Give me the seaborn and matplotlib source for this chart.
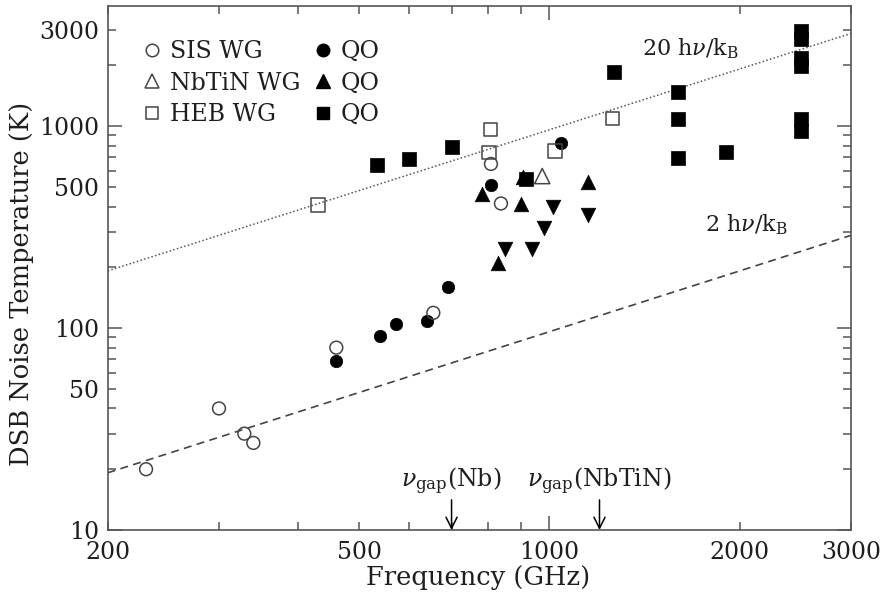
import numpy as np
import pandas as pd
import matplotlib
matplotlib.use("Agg")
import matplotlib.pyplot as plt
import seaborn as sns
from matplotlib.ticker import LogLocator, FuncFormatter
from matplotlib.lines import Line2D

# ---------------- data ----------------
sis_wg_freq = [230, 300, 329, 340, 460, 655, 808, 838]
sis_wg_T = [20, 40, 30, 27, 80, 119, 650, 414]

sis_qo_freq = [460, 540, 571, 640, 690, 808, 1043]
sis_qo_T = [69, 91, 105, 109, 159, 510, 830]

nbtin_wg_freq = [974]
nbtin_wg_T = [566]

nbtin_qo_freq = [781, 830, 901, 907, 1152]
nbtin_qo_T = [460, 211, 411, 557, 530]

nbtin_qo_down_freq = [850, 937, 981, 1014, 1152]
nbtin_qo_down_T = [246, 246, 312, 396, 362]

heb_wg_freq = [430, 803, 807, 1021, 1259]
heb_wg_T = [406, 741, 963, 755, 1092]

heb_qo_freq = [533, 599, 700, 917, 1267, 1600, 1600, 1600, 1900,
               2500, 2500, 2500, 2500, 2500, 2500]
heb_qo_T = [641, 687, 790, 545, 1845, 1479, 1083, 692, 741,
            2970, 2712, 2184, 1977, 1081, 942]

# quantum-limit lines: T = n h nu / k_B
h_over_k = 0.04799          # K per GHz
line_freq = [200, 3000]
line_factors = [20, 2]

x_labels = [200, 500, 1000, 2000, 3000]
y_labels = [10, 50, 100, 500, 1000, 3000]
legend_labels = ["SIS WG", "NbTiN WG", "HEB WG", "QO", "QO", "QO"]

# ---------------- style ----------------
sns.set_style("ticks")
plt.rcParams["font.family"] = ["DejaVu Serif"]
plt.rcParams["mathtext.fontset"] = "dejavuserif"

W, H = 883, 599
fig = plt.figure(figsize=(W / 100, H / 100), dpi=100)
L, R, T, B = 107.7, 851, 5.7, 530
ax = fig.add_axes([L / W, (H - B) / H, (R - L) / W, (B - T) / H])
ax.set_xscale("log")
ax.set_yscale("log")
ax.set_xlim(200, 3000)
ax.set_ylim(10, 3950)

edge = "#444444"
txt = "#1e1e1e"
FS = 17
LFS = 18.5

# theory lines
lf = np.array(line_freq, dtype=float)
ax.plot(lf, line_factors[0] * h_over_k * lf, color="#555555", lw=1.1,
        ls=(0, (1, 1.5)), zorder=1)
ax.plot(lf, line_factors[1] * h_over_k * lf, color="#444444", lw=1.2,
        ls=(0, (4.8, 3.2)), zorder=1)

# data markers
def scat(fx, fy, marker, size, filled):
    df = pd.DataFrame({"f": fx, "T": fy})
    if filled:
        sns.scatterplot(data=df, x="f", y="T", marker=marker, s=size,
                        color="black", edgecolor="black", linewidth=0.5,
                        ax=ax, zorder=3, legend=False)
    else:
        sns.scatterplot(data=df, x="f", y="T", marker=marker, s=size,
                        facecolor="none", edgecolor=edge, linewidth=1.1,
                        ax=ax, zorder=3, legend=False)

scat(heb_qo_freq, heb_qo_T, "s", 95, True)
scat(nbtin_qo_freq, nbtin_qo_T, "^", 110, True)
scat(nbtin_qo_down_freq, nbtin_qo_down_T, "v", 110, True)
scat(sis_qo_freq, sis_qo_T, "o", 80, True)
scat(sis_wg_freq, sis_wg_T, "o", 85, False)
scat(nbtin_wg_freq, nbtin_wg_T, "^", 120, False)
scat(heb_wg_freq, heb_wg_T, "s", 95, False)

# axes / ticks
for sp in ax.spines.values():
    sp.set_color("#555555")
    sp.set_linewidth(1.2)
    sp.set_visible(True)

for axis, labs in ((ax.xaxis, x_labels), (ax.yaxis, y_labels)):
    axis.set_major_locator(LogLocator(base=10, numticks=10))
    axis.set_minor_locator(LogLocator(base=10, subs=np.arange(2, 10), numticks=30))
    fmt = FuncFormatter(lambda v, p, labs=labs: f"{int(round(v))}"
                        if any(abs(v - l) / l < 1e-6 for l in labs) else "")
    axis.set_major_formatter(fmt)
    axis.set_minor_formatter(fmt)

ax.tick_params(which="both", direction="in", top=True, right=True,
               color="#555555", width=1.1, labelsize=FS, labelcolor=txt)
ax.tick_params(which="major", length=10)
ax.tick_params(which="minor", length=5.5)
ax.tick_params(axis="x", which="both", pad=8)
ax.tick_params(axis="y", which="both", pad=6)

ax.set_xlabel("Frequency (GHz)", fontsize=LFS, color=txt)
ax.xaxis.set_label_coords((478 - L) / (R - L), -(565 - B) / (B - T))
ax.set_ylabel("DSB Noise Temperature (K)", fontsize=LFS, color=txt)
ax.yaxis.set_label_coords(-(L - 34) / (R - L), (B - 284) / (B - T))

# line labels
ax.text(1401, 2246, r"20 h$\nu$/k$_{\rm B}$", fontsize=16, ha="left",
        va="baseline", color=txt)
ax.text(1763, 302, r"2 h$\nu$/k$_{\rm B}$", fontsize=16, ha="left",
        va="baseline", color=txt)

# gap-frequency arrows
gap_freq = [700, 1200]
gap_labels = [r"$\nu_{\rm gap}$(Nb)", r"$\nu_{\rm gap}$(NbTiN)"]
for gf, gl in zip(gap_freq, gap_labels):
    ax.annotate("", xy=(gf, 10), xytext=(gf, 14.1),
                arrowprops=dict(arrowstyle="->", color="black", lw=1.1,
                                shrinkA=0, shrinkB=0, mutation_scale=20))
    ax.text(gf, 16.3, gl, ha="center", va="baseline", fontsize=FS,
            color=txt)

# legend
def h_open(m, ms):
    return Line2D([], [], ls="none", marker=m, mfc="none", mec=edge, mew=1.1, ms=ms)

def h_fill(m, ms):
    return Line2D([], [], ls="none", marker=m, mfc="black", mec="black", ms=ms)

handles = [h_open("o", 9), h_open("^", 10), h_open("s", 9),
           h_fill("o", 9), h_fill("^", 10), h_fill("s", 9)]
ax.legend(handles, legend_labels, ncol=2, loc="upper left",
          bbox_to_anchor=(0.050, 0.935), frameon=False, fontsize=FS,
          handlelength=0.6, handletextpad=0.45, columnspacing=0.65,
          labelspacing=0.37, borderpad=0, borderaxespad=0,
          labelcolor=txt)

fig.savefig("out.png", dpi=100)
